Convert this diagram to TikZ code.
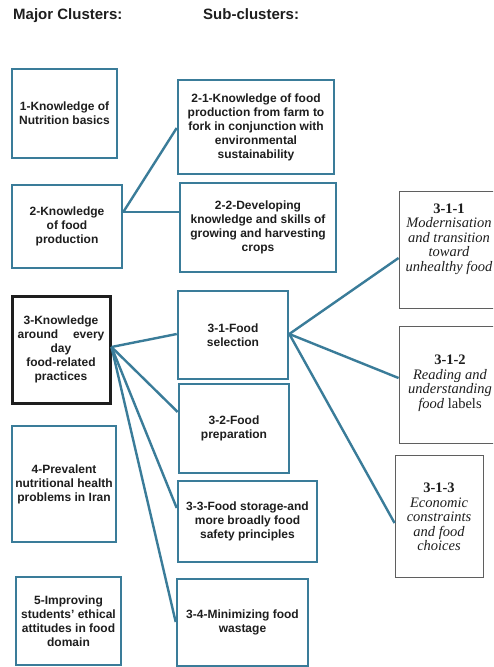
\documentclass[tikz,border=0pt]{standalone}
\usepackage{fontspec}
\setmainfont{Liberation Sans}
\newfontfamily\serifrm{Liberation Serif}
\definecolor{boxblue}{RGB}{58,124,153}
\definecolor{darkframe}{RGB}{30,30,30}
\definecolor{grayframe}{RGB}{95,95,95}
\definecolor{txt}{RGB}{30,30,30}
\begin{document}
\begin{tikzpicture}[x=1pt,y=-1pt,
  cbox/.style={draw=boxblue, line width=2.6pt, align=center, text=txt,
    font=\bfseries\fontsize{12}{14}\selectfont, inner sep=0pt},
  kbox/.style={cbox, draw=darkframe, line width=3pt},
  rbox/.style={draw=grayframe, line width=0.9pt, inner sep=0pt},
  rtext/.style={align=center, text=txt, inner sep=0pt,
    font=\serifrm\fontsize{14.5}{14.5}\selectfont},
  link/.style={draw=boxblue, line width=2.4pt},
  head/.style={font=\bfseries\fontsize{15}{18}\selectfont, text=txt,
    anchor=base west, inner sep=0pt}]
\useasboundingbox (0,0) rectangle (493,667);
\clip (0,0) rectangle (493,667);
\fill[white] (0,0) rectangle (493,667);

\node[head] (h1) at (13,19) {Major Clusters:};
\node[head] (h2) at (203,19) {Sub-clusters:};

% left column
\node[cbox, minimum width=105pt, minimum height=89pt] (b1) at (64.5,113.5)
  {1-Knowledge of\\Nutrition basics};
\node[cbox, minimum width=110pt, minimum height=83pt] (b2) at (67,226.5)
  {2-Knowledge\\of food\\production};
\node[kbox, minimum width=98pt, minimum height=107pt] (b3) at (61,349.5)
  {3-Knowledge\\around\hspace{14.8pt}every\\day\\food-related\\practices};
\node[cbox, minimum width=104pt, minimum height=116pt] (b4) at (64,484)
  {4-Prevalent\\nutritional health\\problems in Iran};
\node[cbox, minimum width=105pt, minimum height=88pt] (b5) at (68.5,621)
  {5-Improving\\students' ethical\\attitudes in food\\domain};

% middle column
\node[cbox, minimum width=156pt, minimum height=94pt] (b21) at (256,127)
  {2-1-Knowledge of food\\production from farm to\\fork in conjunction with\\environmental\\sustainability};
\node[cbox, minimum width=156pt, minimum height=89pt] (b22) at (258,227.5)
  {2-2-Developing\\knowledge and skills of\\growing and harvesting\\crops};
\node[cbox, minimum width=110pt, minimum height=88pt] (b31) at (233,335)
  {3-1-Food\\selection};
\node[cbox, minimum width=110pt, minimum height=89pt] (b32) at (234,428.5)
  {3-2-Food\\preparation};
\node[cbox, minimum width=139pt, minimum height=81pt] (b33) at (247.5,521.5)
  {3-3-Food storage-and\\more broadly food\\safety principles};
\node[cbox, minimum width=131pt, minimum height=87pt] (b34) at (242.5,622.5)
  {3-4-Minimizing food\\wastage};

% right column
\node[rbox, minimum width=104pt, minimum height=117pt] (r1) at (451,249.5) {};
\node[rtext] (r1t) at (449,239)
  {\textbf{3-1-1}\\\textit{Modernisation}\\\textit{and transition}\\\textit{toward}\\\textit{unhealthy food}};
\node[rbox, minimum width=104pt, minimum height=117pt] (r2) at (451,384.5) {};
\node[rtext] (r2t) at (450,383)
  {\textbf{3-1-2}\\\textit{Reading and}\\\textit{understanding}\\\textit{food} labels};
\node[rbox, minimum width=88pt, minimum height=122pt] (r3) at (439,516) {};
\node[rtext] (r3t) at (439,517)
  {\textbf{3-1-3}\\\textit{Economic}\\\textit{constraints}\\\textit{and food}\\\textit{choices}};

% connectors
\draw[link] ([yshift=14.5pt]b2.east) -- ([yshift=-1pt]b21.west);
\draw[link] ([yshift=14.5pt]b2.east) -- ([yshift=15.5pt]b22.west);

\draw[link] ([yshift=2.5pt]b3.east) -- ([yshift=1pt]b31.west);
\draw[link] ([yshift=2.5pt]b3.east) -- ([yshift=16.5pt]b32.west);
\draw[link] ([yshift=2.5pt]b3.east) -- ([yshift=13.5pt]b33.west);
\draw[link] ([yshift=2.5pt]b3.east) -- ([yshift=0.5pt]b34.west);

\draw[link] ([yshift=1pt]b31.east) -- ([yshift=-8.5pt]r1.west);
\draw[link] ([yshift=1pt]b31.east) -- ([yshift=6.5pt]r2.west);
\draw[link] ([yshift=1pt]b31.east) -- ([yshift=-7pt]r3.west);
\end{tikzpicture}
\end{document}
